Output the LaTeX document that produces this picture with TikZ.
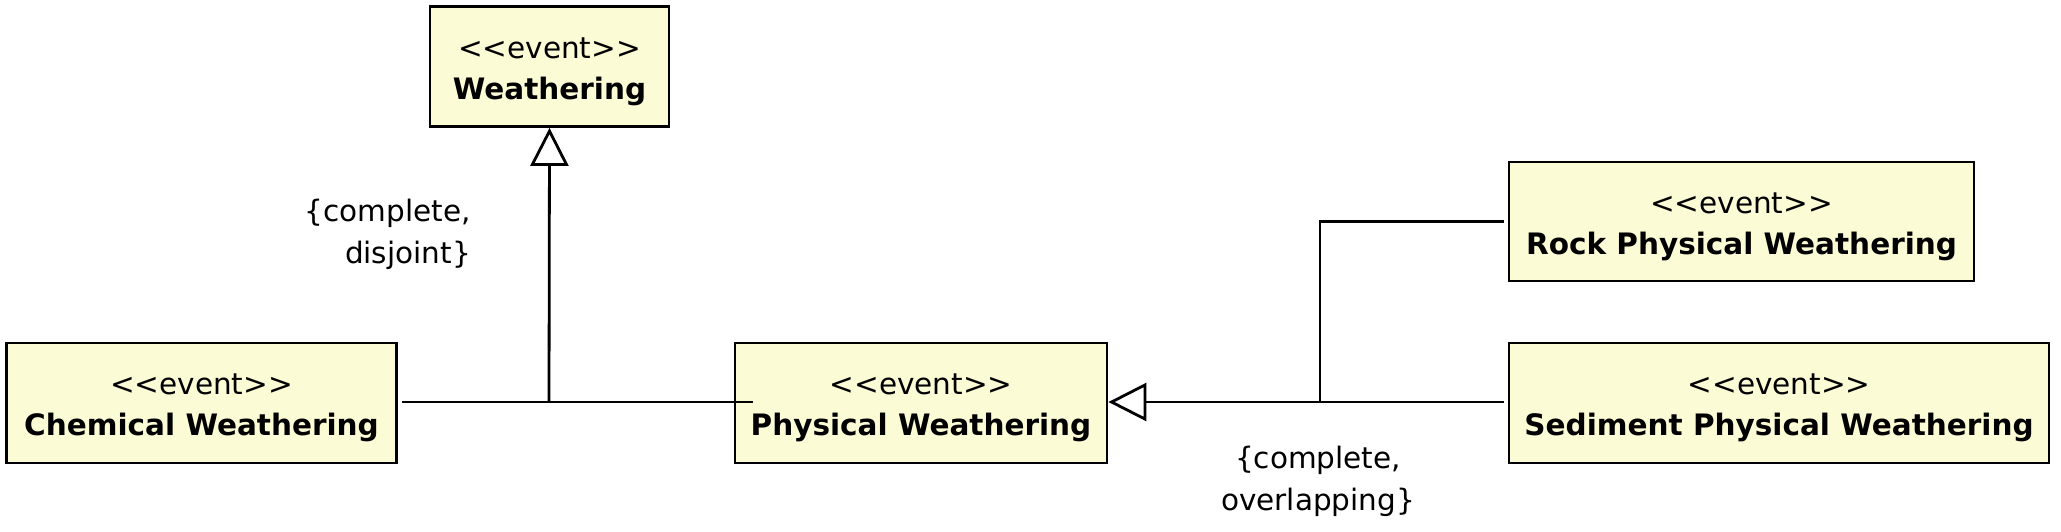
\documentclass[tikz,border=0pt]{standalone}
\usepackage{fontspec}
\setmainfont{DejaVu Sans}
\usetikzlibrary{arrows.meta,calc}
\definecolor{boxfill}{RGB}{251,251,213}
\newcommand{\evtext}[1]{\raisebox{-4pt}[\height][\depth]{\begin{tabular}{@{}c@{}}<{}<event>{}>\\\textbf{#1}\end{tabular}}}
\tikzset{
  evbox/.style={draw=black, fill=boxfill, line width=2.8pt, align=center,
    inner sep=0pt, outer sep=1.4pt, font=\fontsize{29.5}{41}\selectfont},
  conn/.style={line width=2.8pt, draw=black},
  gen/.style={conn, -{Triangle[open, length=38pt, width=38pt, line width=2.8pt]}},
  lbl/.style={font=\fontsize{29.5}{42}\selectfont, inner sep=0pt}
}
\begin{document}
\begin{tikzpicture}[x=1pt, y=-1pt]
\useasboundingbox (0,0) rectangle (2061,531);
\node[evbox, minimum width=239pt, minimum height=120pt] (W) at (549.5,66.5)
  {\evtext{Weathering}};
\node[evbox, minimum width=390pt, minimum height=120pt] (C) at (201.5,403)
  {\evtext{Chemical Weathering}};
\node[evbox, minimum width=372pt, minimum height=120pt] (P) at (921,403)
  {\evtext{Physical Weathering}};
\node[evbox, minimum width=465pt, minimum height=119pt] (R) at (1741.5,221.5)
  {\evtext{Rock Physical Weathering}};
\node[evbox, minimum width=540pt, minimum height=120pt] (S) at (1779,403)
  {\evtext{Sediment Physical Weathering}};
% generalization set 1
\coordinate (j1) at (549,402);
\coordinate (cEnd) at ($(C.east)+(4,-1)$);
\coordinate (pIn) at (753,402);
\draw[conn] (cEnd) -- (pIn);
\draw[gen] (j1) -- (W.south);
% generalization set 2
\coordinate (j2) at (1320,402);
\coordinate (sEnd) at ($(S.west)+(-4,-1)$);
\coordinate (rEnd) at ($(R.west)+(-4,0)$);
\draw[gen] (sEnd) -- (P.east |- sEnd);
\draw[conn] (j2) |- (rEnd);
% labels
\node[lbl, align=right, anchor=east] (l1) at (471,234) {\{complete,\\disjoint\}};
\node[lbl, align=center] (l2) at (1318,481) {\{complete,\\overlapping\}};
\end{tikzpicture}
\end{document}
